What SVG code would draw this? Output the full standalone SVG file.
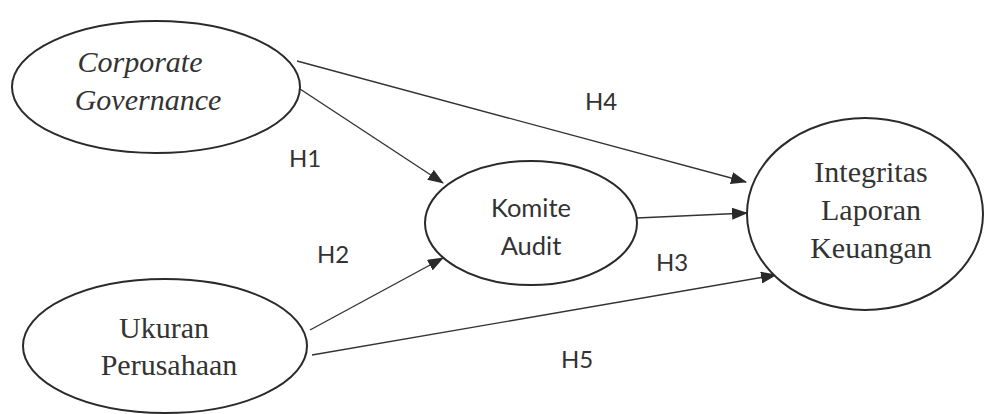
<svg xmlns="http://www.w3.org/2000/svg" width="991" height="414" viewBox="0 0 991 414">
<style>
.node{fill:#fff;stroke:#2a2a2a;stroke-width:2}
.serif{font-family:"Liberation Serif","Times New Roman",serif;font-size:30px;fill:#333;text-anchor:middle}
.sans{font-family:Lato,"Open Sans",sans-serif;font-size:24px;fill:#333;text-anchor:middle}
.big{font-size:25.5px}
.edge{stroke:#333;stroke-width:1.4;fill:none;marker-end:url(#arr)}
</style>
<defs>
<marker id="arr" markerWidth="16" markerHeight="12" refX="15" refY="6" orient="auto" markerUnits="userSpaceOnUse">
<path d="M0,0 L16,6 L0,12 z" fill="#2a2a2a"/>
</marker>
</defs>
<rect width="991" height="414" fill="#fff"/>
<g id="connectors">
<line class="edge" x1="297" y1="61" x2="746" y2="182"/>
<line class="edge" x1="300" y1="89" x2="443" y2="183"/>
<line class="edge" x1="310" y1="330" x2="443" y2="258"/>
<line class="edge" x1="637" y1="218" x2="747" y2="213"/>
<line class="edge" x1="312" y1="355" x2="776" y2="275"/>
<text class="sans" x="601" y="110">H4</text>
<text class="sans" x="305" y="167">H1</text>
<text class="sans" x="333" y="263">H2</text>
<text class="sans" x="672" y="271">H3</text>
<text class="sans" x="577" y="368">H5</text>
</g>
<g id="corporate-governance">
<ellipse class="node" cx="156" cy="87" rx="144" ry="66"/>
<text class="serif" x="140" y="72" font-style="italic">Corporate</text>
<text class="serif" x="148" y="110" font-style="italic">Governance</text>
</g>
<g id="ukuran-perusahaan">
<ellipse class="node" cx="165" cy="346" rx="142" ry="67"/>
<text class="serif" x="164" y="338">Ukuran</text>
<text class="serif" x="169" y="375">Perusahaan</text>
</g>
<g id="komite-audit">
<ellipse class="node" cx="531" cy="223" rx="106" ry="62"/>
<text class="sans big" x="531" y="217">Komite</text>
<text class="sans big" x="531" y="255">Audit</text>
</g>
<g id="integritas-laporan-keuangan">
<ellipse class="node" cx="865" cy="214" rx="118" ry="96"/>
<text class="serif" x="871" y="182">Integritas</text>
<text class="serif" x="871" y="220">Laporan</text>
<text class="serif" x="871" y="258">Keuangan</text>
</g>
</svg>
